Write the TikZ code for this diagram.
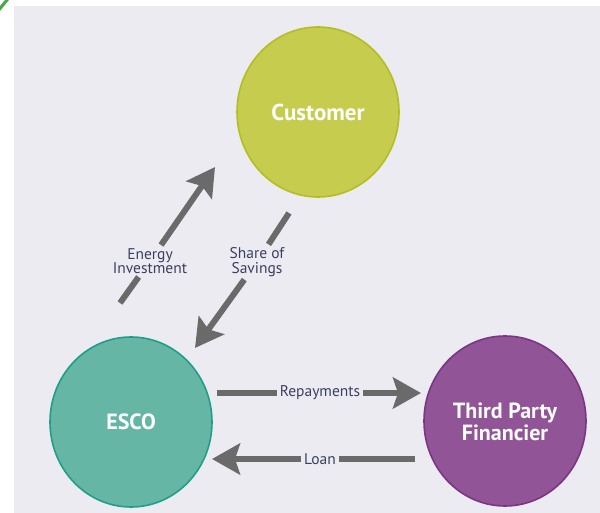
\documentclass[tikz,border=0pt]{standalone}
\usepackage{fontspec}
\setmainfont{PT Sans}
\usepackage{xcolor}
\usepackage{tikz}
\usetikzlibrary{shapes.geometric, arrows.meta, positioning}

\definecolor{bgcol}{HTML}{EDEBF2}
\definecolor{custfill}{HTML}{C5CC4E}
\definecolor{custline}{HTML}{B3BE22}
\definecolor{escofill}{HTML}{66B6A6}
\definecolor{escoline}{HTML}{1F9E89}
\definecolor{tpffill}{HTML}{915496}
\definecolor{tpfline}{HTML}{7A3585}
\definecolor{arrowgray}{HTML}{6A6A6A}
\definecolor{lblcol}{HTML}{3B3F5E}

\begin{document}
\begin{tikzpicture}
  [
    x=1pt, y=-1pt,
    Party/.style={ellipse, line width=1.6pt, minimum width=162pt, minimum height=170pt, inner sep=0pt,
      text=white, align=center, font=\fontsize{22}{22}\selectfont\bfseries},
    Lbl/.style={inner sep=3pt, align=center, text=lblcol, font=\fontsize{15.5}{14.5}\selectfont},
    Line/.style={draw=arrowgray, line width=6pt},
    Arrow/.style={draw=arrowgray, line width=6pt, -{Stealth[length=28pt, width=31pt, inset=5pt]}}
  ]
  \useasboundingbox (0,0) rectangle (600,513);
  \fill[bgcol] (14,6) rectangle (600,513);
  \fill[green!50!black!70] (0,6) -- (5,0) -- (9,0) -- (0,11) -- cycle;

  % Nodes
  \node[Party, fill=custfill, draw=custline, font=\fontsize{23}{23}\selectfont\bfseries] (cust) at(318, 112) {Customer};

  \node[Party, fill=escofill, draw=escoline] (esco) at(131, 422) {ESCO};

  \node[Party, fill=tpffill, draw=tpfline] (tpf) at(505, 421) {\\[-4pt]Third Party\\Financier};

  \node[Lbl] (invest) at(150, 261) {Energy\\Investment};
  \node[Lbl] (share) at(257, 262) {Share of\\Savings};
  \node[Lbl] (repay) at(320, 393) {Repayments};
  \node[Lbl] (loan) at(320, 459) {Loan};

  \coordinate (invest0) at(120, 303);
  \coordinate (invest1) at(215, 167);
  \coordinate (share0) at(289, 213);
  \coordinate (share1) at(195, 348);
  \coordinate (repay0) at(217, 393);
  \coordinate (repay1) at(421, 393);
  \coordinate (loan0) at(415, 459);
  \coordinate (loan1) at(212, 459);

  % Lines
  \path [Line] (invest0) -- (invest);
  \path [Arrow] (invest) -- (invest1);
  \path [Line] (share0) -- (share);
  \path [Arrow] (share) -- (share1);
  \path [Line] (repay0) -- (repay);
  \path [Arrow] (repay) -- (repay1);
  \path [Line] (loan0) -- (loan);
  \path [Arrow] (loan) -- (loan1);

\end{tikzpicture}
\end{document}
